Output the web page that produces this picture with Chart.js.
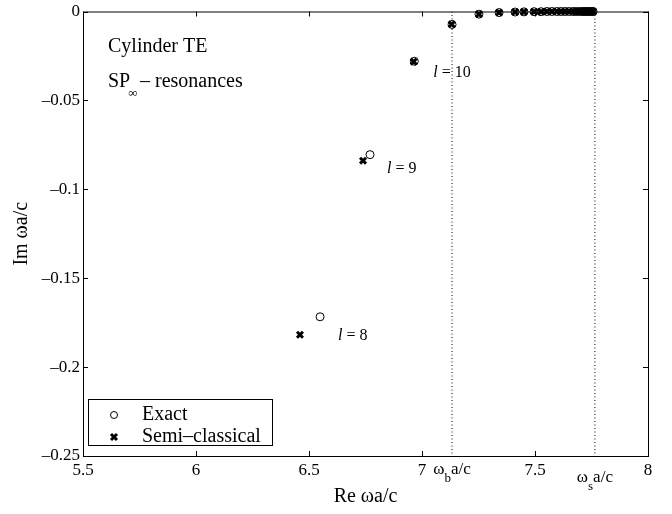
<!DOCTYPE html>
<html>
<head>
<meta charset="utf-8">
<script src="https://cdn.jsdelivr.net/npm/chart.js@4.4.1/dist/chart.umd.min.js"></script>
<style>
  html, body { margin: 0; padding: 0; background: #fff; }
</style>
</head>
<body>
<canvas id="c" width="672" height="514"></canvas>
<script>
// resonance positions (Re, Im of omega a/c)
const exactRe = [6.549, 6.770, 6.966, 7.133];
const exactIm = [-0.1717, -0.0805, -0.0280, -0.0073];
const semiRe = [6.460, 6.739, 6.963, 7.131];
const semiIm = [-0.1818, -0.0839, -0.0282, -0.0072];
// higher l, both methods coincide here
const clusterRe = [7.252, 7.341, 7.412, 7.451, 7.496, 7.527, 7.553, 7.575, 7.597, 7.615,
  7.633, 7.650, 7.668, 7.681, 7.695, 7.708, 7.717, 7.726, 7.735, 7.743, 7.752, 7.757];
const clusterIm = [-0.0015, -0.0006, -0.0003, -0.0002, -0.0001, -0.0001, 0, 0, 0, 0,
  0, 0, 0, 0, 0, 0, 0, 0, 0, 0, 0, 0];
const modeL = [8, 9, 10];
const omegaB = 7.133;
const omegaS = 7.765;
const xTicks = [5.5, 6, 6.5, 7, 7.5, 8];
const yTicks = [0, -0.05, -0.1, -0.15, -0.2, -0.25];

const SERIF = "'Liberation Serif', 'Times New Roman', serif";
const pts = (re, im) => re.map((v, i) => ({ x: v, y: im[i] }));

const exactPts = pts(exactRe, exactIm).concat(pts(clusterRe, clusterIm));
const semiPts = pts(semiRe, semiIm).concat(pts(clusterRe, clusterIm));

function vline(v) {
  return {
    type: 'line', data: [{ x: v, y: 0 }, { x: v, y: -0.25 }],
    borderColor: '#000', borderWidth: 1, borderDash: [1, 2.5],
    pointRadius: 0, fill: false
  };
}

function txt(ctx, s, x, y, size, opts = {}) {
  ctx.font = (opts.italic ? 'italic ' : '') + size + 'px ' + SERIF;
  ctx.textAlign = opts.align || 'left';
  ctx.textBaseline = 'middle';
  ctx.fillText(s, x, y);
  return ctx.measureText(s).width;
}

function crossMark(ctx, x, y, r) {
  ctx.save();
  ctx.lineWidth = 3;
  ctx.strokeStyle = '#000';
  ctx.beginPath();
  ctx.moveTo(x - r, y - r); ctx.lineTo(x + r, y + r);
  ctx.moveTo(x + r, y - r); ctx.lineTo(x - r, y + r);
  ctx.stroke();
  ctx.restore();
}

const decor = {
  id: 'decor',
  afterDraw(chart) {
    const { ctx, chartArea: a, scales: { x, y } } = chart;
    ctx.save();
    ctx.fillStyle = '#000';
    ctx.strokeStyle = '#000';
    ctx.lineWidth = 1;

    // axes box with inward ticks
    ctx.strokeRect(a.left + 0.5, a.top + 0.5, a.right - a.left, a.bottom - a.top);
    ctx.beginPath();
    xTicks.forEach(v => {
      const px = Math.round(x.getPixelForValue(v)) + 0.5;
      ctx.moveTo(px, a.bottom); ctx.lineTo(px, a.bottom - 5);
      ctx.moveTo(px, a.top); ctx.lineTo(px, a.top + 5);
    });
    yTicks.forEach(v => {
      const py = Math.round(y.getPixelForValue(v)) + 0.5;
      ctx.moveTo(a.left, py); ctx.lineTo(a.left + 5, py);
      ctx.moveTo(a.right, py); ctx.lineTo(a.right - 5, py);
    });
    ctx.stroke();

    // axis titles
    txt(ctx, 'Re ωa/c', (a.left + a.right) / 2, 497, 20, { align: 'center' });
    ctx.save();
    ctx.translate(22, (a.top + a.bottom) / 2);
    ctx.rotate(-Math.PI / 2);
    txt(ctx, 'Im ωa/c', 0, 0, 20, { align: 'center' });
    ctx.restore();

    // band edge labels under the x axis
    const edgeLabel = (v, sub, yy) => {
      const cx = x.getPixelForValue(v);
      ctx.font = '17px ' + SERIF;
      const w1 = ctx.measureText('ω').width;
      const w3 = ctx.measureText('a/c').width;
      ctx.font = '13px ' + SERIF;
      const w2 = ctx.measureText(sub).width;
      let sx = cx - (w1 + w2 + w3) / 2;
      sx += txt(ctx, 'ω', sx, yy, 17);
      sx += txt(ctx, sub, sx, yy + 9, 13);
      txt(ctx, 'a/c', sx, yy, 17);
    };
    edgeLabel(omegaB, 'b', 470);
    edgeLabel(omegaS, 's', 478);

    // annotation text
    txt(ctx, 'Cylinder TE', 108, 47, 20);
    let tx = 108;
    tx += txt(ctx, 'SP', tx, 82, 20);
    txt(ctx, '∞', tx - 2, 94, 13);
    txt(ctx, '– resonances', 140, 82, 20);

    // mode labels next to the exact points
    const off = [[18, 19], [17, 14], [19, 12]];
    modeL.forEach((l, i) => {
      let lx = x.getPixelForValue(exactRe[i]) + off[i][0];
      const ly = y.getPixelForValue(exactIm[i]) + off[i][1];
      lx += txt(ctx, 'l', lx, ly, 16, { italic: true });
      txt(ctx, ' = ' + l, lx, ly, 16);
    });

    // legend box
    const lg = { left: 88, top: 399, w: 184, h: 46 };
    ctx.fillStyle = '#fff';
    ctx.fillRect(lg.left, lg.top, lg.w, lg.h);
    ctx.strokeRect(lg.left + 0.5, lg.top + 0.5, lg.w, lg.h);
    ctx.fillStyle = '#000';
    ctx.beginPath();
    ctx.arc(114, 415, 3.5, 0, Math.PI * 2);
    ctx.stroke();
    crossMark(ctx, 114, 437, 3);
    txt(ctx, 'Exact', 142, 415, 20);
    txt(ctx, 'Semi–classical', 142, 437, 20);

    ctx.restore();
  }
};

new Chart(document.getElementById('c'), {
  type: 'scatter',
  data: {
    datasets: [
      {
        label: 'Exact', data: exactPts,
        pointStyle: 'circle', pointRadius: 4, pointBorderWidth: 1,
        borderColor: '#000', backgroundColor: 'rgba(0,0,0,0)', clip: false
      },
      {
        label: 'Semi-classical', data: semiPts,
        pointStyle: 'crossRot', pointRadius: 4.2, pointBorderWidth: 3,
        borderColor: '#000', backgroundColor: '#000', clip: false
      },
      vline(omegaB),
      vline(omegaS)
    ]
  },
  options: {
    responsive: false,
    animation: false,
    layout: { padding: { left: 0, right: 24, top: 9, bottom: 0 } },
    plugins: { legend: { display: false }, tooltip: { enabled: false } },
    scales: {
      x: {
        type: 'linear', min: 5.5, max: 8,
        grid: { display: false, drawTicks: false }, border: { display: false },
        afterBuildTicks: s => { s.ticks = xTicks.map(v => ({ value: v })); },
        afterFit: s => { s.height = 58; },
        ticks: {
          color: '#000', padding: 6, maxRotation: 0,
          font: { family: SERIF, size: 17, lineHeight: 1 },
          callback: v => String(v)
        }
      },
      y: {
        type: 'linear', min: -0.25, max: 0,
        grid: { display: false, drawTicks: false }, border: { display: false },
        afterBuildTicks: s => { s.ticks = yTicks.map(v => ({ value: v })); },
        afterFit: s => { s.width = 83; },
        ticks: {
          color: '#000', padding: 3,
          font: { family: SERIF, size: 17, lineHeight: 1 },
          callback: v => (v === 0 ? '0' : '–' + String(Math.abs(v)))
        }
      }
    }
  },
  plugins: [decor]
});
</script>
</body>
</html>
